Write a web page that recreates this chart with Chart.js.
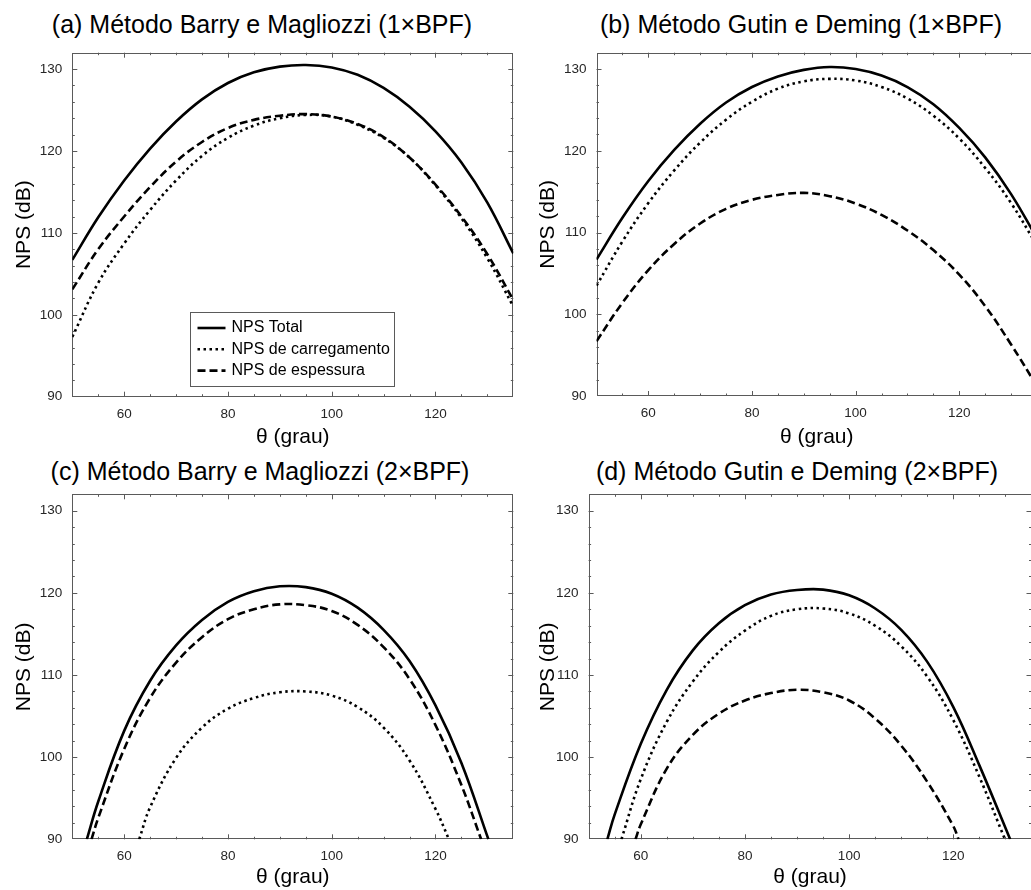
<!DOCTYPE html>
<html>
<head>
<meta charset="utf-8">
<script src="https://cdn.jsdelivr.net/npm/chart.js@4.4.0/dist/chart.umd.min.js"></script>
<style>
  body { margin: 0; width: 1031px; height: 890px; overflow: hidden; background: #fff; position: relative;
         font-family: "Liberation Sans", Arial, sans-serif; }
  .painel { position: absolute; }
  .titulo { position: absolute; font-size: 25px; line-height: 28px; color: #000; white-space: nowrap; transform: translateX(-50%); }
</style>
</head>
<body>
<div class="titulo" style="left:262px; top:10px">(a) Método Barry e Magliozzi (1×BPF)</div>
<div class="titulo" style="left:801px; top:10px">(b) Método Gutin e Deming (1×BPF)</div>
<div class="titulo" style="left:260px; top:457px">(c) Método Barry e Magliozzi (2×BPF)</div>
<div class="titulo" style="left:797px; top:457px">(d) Método Gutin e Deming (2×BPF)</div>

<div class="painel" style="left:0; top:0; width:520px; height:450px"><canvas id="grafA"></canvas></div>
<div class="painel" style="left:520px; top:0; width:525px; height:450px"><canvas id="grafB"></canvas></div>
<div class="painel" style="left:0; top:450px; width:520px; height:440px"><canvas id="grafC"></canvas></div>
<div class="painel" style="left:520px; top:450px; width:520px; height:440px"><canvas id="grafD"></canvas></div>

<script>
// eixos
var xTicks = [60, 80, 100, 120];
var yTicks = [90, 100, 110, 120, 130];
var nomes = ['NPS Total', 'NPS de carregamento', 'NPS de espessura'];

// (a) e (b): mesma malha de theta
var thetaAB = [50, 55, 60, 65, 70, 75, 80, 85, 90, 95, 100, 105, 110, 115, 120, 125, 130, 135];
var totalA = [106.7, 111.9, 116.4, 120.3, 123.6, 126.3, 128.3, 129.6, 130.3, 130.5, 130.2, 129.3, 127.7, 125.4, 122.4, 118.6, 113.7, 107.5];
var cargaA = [97.3, 103.9, 108.7, 112.8, 116.4, 119.4, 121.6, 123.1, 124.0, 124.4, 124.2, 123.2, 121.6, 119.2, 115.8, 111.8, 106.9, 101.0];
var espA   = [103.1, 108.0, 112.0, 115.6, 118.7, 121.1, 122.8, 123.8, 124.3, 124.5, 124.2, 123.3, 121.7, 119.2, 115.9, 112.0, 107.4, 101.8];

var totalB = [106.7, 111.8, 116.3, 120.1, 123.3, 125.9, 127.8, 129.1, 129.9, 130.25, 130.0, 129.2, 127.8, 125.7, 122.8, 119.2, 114.7, 109.3];
var cargaB = [103.5, 108.9, 113.6, 117.6, 121.0, 123.8, 126.0, 127.6, 128.5, 128.8, 128.6, 127.8, 126.4, 124.3, 121.5, 117.9, 113.6, 108.4];
var espB   = [96.7, 101.4, 105.4, 108.6, 111.1, 112.9, 114.0, 114.6, 114.85, 114.45, 113.55, 112.15, 110.25, 107.85, 104.85, 101.0, 96.3, 91.2];

// (c) e (d): cada curva começa/termina onde cruza 90 dB
var thetaTotalC = [52.8, 55, 60, 65, 70, 75, 80, 85, 90, 95, 100, 105, 110, 115, 120, 125, 130.2];
var totalC      = [90, 94.6, 103.2, 109.3, 113.6, 116.7, 118.9, 120.2, 120.8, 120.7, 119.9, 118.2, 115.5, 111.7, 106.3, 99.3, 90];
var thetaCargaC = [62.9, 65, 70, 75, 80, 85, 90, 95, 100, 105, 110, 115, 120, 122.6];
var cargaC      = [90, 93.9, 99.9, 103.6, 105.9, 107.2, 107.9, 108.0, 107.5, 106.1, 103.6, 99.6, 93.7, 90];
var thetaEspC   = [53.7, 55, 60, 65, 70, 75, 80, 85, 90, 95, 100, 105, 110, 115, 120, 125, 128.8];
var espC        = [90, 92.6, 101.0, 107.2, 111.5, 114.6, 116.8, 118.0, 118.6, 118.5, 117.8, 116.1, 113.4, 109.5, 103.9, 96.6, 90];

var thetaTotalD = [53.6, 55, 60, 65, 70, 75, 80, 85, 90, 95, 100, 105, 110, 115, 120, 125, 130.9];
var totalD      = [90, 93.0, 101.6, 108.2, 113.0, 116.3, 118.5, 119.8, 120.35, 120.4, 119.7, 118.1, 115.5, 111.6, 106.1, 99.0, 90];
var thetaCargaD = [56.3, 60, 65, 70, 75, 80, 85, 90, 95, 100, 105, 110, 115, 120, 125, 129.9];
var cargaD      = [90, 97.3, 104.3, 109.2, 112.8, 115.4, 117.2, 118.0, 118.1, 117.5, 116.0, 113.5, 109.8, 104.5, 97.6, 90];
var thetaEspD   = [59, 60, 65, 70, 75, 80, 85, 90, 95, 100, 105, 110, 115, 120, 121];
var espD        = [90, 91.8, 98.6, 102.7, 105.3, 106.9, 107.8, 108.2, 107.9, 106.9, 104.7, 101.4, 97.0, 91.6, 90];

var fonte = '"Liberation Sans", Arial, sans-serif';
var corEixo = '#262626';
var corCaixa = '#5a5a5a';

function pontos(th, vals) {
  return th.map(function(t, i) { return {x: t, y: vals[i]}; });
}

// caixa com ticks para dentro nos quatro lados
var caixaEixos = {
  id: 'caixaEixos',
  beforeDatasetsDraw: function(chart) {
    var ctx = chart.ctx, a = chart.chartArea, sx = chart.scales.x, sy = chart.scales.y;
    ctx.save();
    ctx.strokeStyle = corCaixa;
    ctx.lineWidth = 1;
    ctx.strokeRect(Math.round(a.left) + 0.5, Math.round(a.top) + 0.5, Math.round(a.right - a.left) - 1, Math.round(a.bottom - a.top) - 1);
    ctx.beginPath();
    for (var v = 55; v < 135; v += 5) {
      var px = Math.round(sx.getPixelForValue(v)) + 0.5;
      var len = xTicks.indexOf(v) >= 0 ? 5 : 2.5;
      ctx.moveTo(px, a.bottom); ctx.lineTo(px, a.bottom - len);
      ctx.moveTo(px, a.top); ctx.lineTo(px, a.top + len);
    }
    for (var w = 92; w < 132; w += 2) {
      var py = Math.round(sy.getPixelForValue(w)) + 0.5;
      var l2 = yTicks.indexOf(w) >= 0 ? 5 : 2.5;
      ctx.moveTo(a.left, py); ctx.lineTo(a.left + l2, py);
      ctx.moveTo(a.right, py); ctx.lineTo(a.right - l2, py);
    }
    ctx.stroke();
    ctx.restore();
  }
};

// legenda dentro do painel (a)
var legendaA = {
  id: 'legendaA',
  afterDraw: function(chart) {
    var ctx = chart.ctx, a = chart.chartArea;
    var x0 = Math.round(a.left + 118) + 0.5, y0 = Math.round(a.bottom - 85) + 0.5, w = 204, h = 74;
    ctx.save();
    ctx.fillStyle = '#fff';
    ctx.fillRect(x0, y0, w, h);
    ctx.strokeStyle = corCaixa;
    ctx.lineWidth = 1;
    ctx.strokeRect(x0, y0, w, h);
    chart.data.datasets.forEach(function(ds, i) {
      var yy = y0 + 15.5 + i * 21.3;
      ctx.beginPath();
      ctx.setLineDash(ds.borderDash || []);
      ctx.lineWidth = ds.borderWidth;
      ctx.strokeStyle = '#000';
      ctx.moveTo(x0 + 7, yy);
      ctx.lineTo(x0 + 35, yy);
      ctx.stroke();
      ctx.setLineDash([]);
      ctx.fillStyle = '#000';
      ctx.font = '16px ' + fonte;
      ctx.textBaseline = 'middle';
      ctx.fillText(ds.label, x0 + 41, yy);
    });
    ctx.restore();
  }
};

function criaGrafico(id, series, cfg) {
  var estilos = [
    {borderDash: [], order: 2},
    {borderDash: [2.5, 3.5], order: 1},
    {borderDash: [8, 4], order: 0}
  ];
  var datasets = series.map(function(s, i) {
    return {
      label: nomes[i],
      data: s,
      borderColor: '#000',
      borderWidth: 2.6,
      borderDash: estilos[i].borderDash,
      order: estilos[i].order,
      pointRadius: 0,
      tension: 0.4,
      fill: false
    };
  });
  return new Chart(document.getElementById(id).getContext('2d'), {
    type: 'line',
    data: {datasets: datasets},
    options: {
      responsive: true,
      maintainAspectRatio: false,
      animation: false,
      events: [],
      layout: {padding: {top: cfg.top, right: cfg.right, left: 0, bottom: 0}},
      plugins: {legend: {display: false}, tooltip: {enabled: false}, title: {display: false}},
      scales: {
        x: {
          type: 'linear', min: 50, max: 135,
          afterBuildTicks: function(s) { s.ticks = xTicks.map(function(v) { return {value: v}; }); },
          afterFit: function(s) { s.height = cfg.xAltura; },
          grid: {display: false, drawTicks: false},
          border: {display: false},
          ticks: {color: corEixo, font: {family: fonte, size: 13.5}, padding: 9, maxRotation: 0},
          title: {display: true, text: 'θ (grau)', color: '#000', font: {family: fonte, size: 21}, padding: {top: 0, bottom: cfg.xTitPad}}
        },
        y: {
          type: 'linear', min: 90, max: 132,
          afterBuildTicks: function(s) { s.ticks = yTicks.map(function(v) { return {value: v}; }); },
          afterFit: function(s) { s.width = cfg.yLargura; },
          grid: {display: false, drawTicks: false},
          border: {display: false},
          ticks: {color: corEixo, font: {family: fonte, size: 13.5}, padding: 10},
          title: {display: true, text: 'NPS (dB)', color: '#000', font: {family: fonte, size: 21}, padding: {top: cfg.yTitPad, bottom: 0}}
        }
      }
    },
    plugins: cfg.legenda ? [caixaEixos, legendaA] : [caixaEixos]
  });
}

criaGrafico('grafA', [pontos(thetaAB, totalA), pontos(thetaAB, cargaA), pontos(thetaAB, espA)],
  {top: 52.7, right: 6.7, xAltura: 53.3, xTitPad: 0.4, yLargura: 72.3, yTitPad: 11.4, legenda: true});
criaGrafico('grafB', [pontos(thetaAB, totalB), pontos(thetaAB, cargaB), pontos(thetaAB, espB)],
  {top: 52.7, right: 8, xAltura: 54, xTitPad: 0.4, yLargura: 76.5, yTitPad: 15.4});
criaGrafico('grafC', [pontos(thetaTotalC, totalC), pontos(thetaCargaC, cargaC), pontos(thetaEspC, espC)],
  {top: 44.3, right: 6.7, xAltura: 50.7, xTitPad: 0, yLargura: 72.3, yTitPad: 11.4});
criaGrafico('grafD', [pontos(thetaTotalD, totalD), pontos(thetaCargaD, cargaD), pontos(thetaEspD, espD)],
  {top: 44.3, right: 8.5, xAltura: 50.7, xTitPad: 0, yLargura: 68.6, yTitPad: 15.4});
</script>
</body>
</html>
